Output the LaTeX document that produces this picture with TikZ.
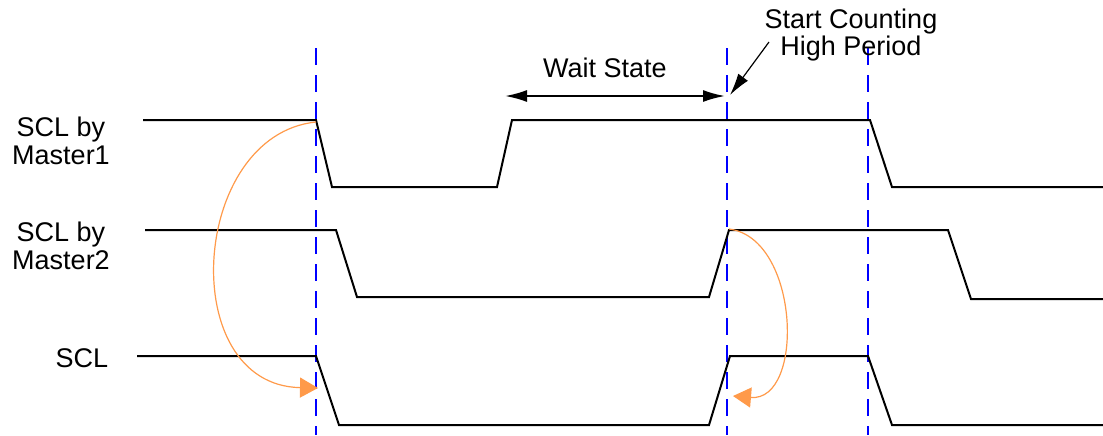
\documentclass[tikz,border=0pt]{standalone}
\usepackage{fontspec}
\setmainfont{Liberation Sans}
\usetikzlibrary{arrows.meta}
\definecolor{orng}{HTML}{FF9A4A}
\tikzset{
  wave/.style={line width=1pt, black, line join=miter},
  guide/.style={line width=1.25pt, blue, dash pattern=on 8.5pt off 5pt},
  lbl/.style={font=\fontsize{13.5}{13.8}\selectfont, align=center, inner sep=0pt},
  causal/.style={orng, line width=0.6pt, -{Triangle[length=9pt,width=10pt]}},
  bigtip/.tip={Latex[length=11pt,width=6pt]},
}
\begin{document}
\begin{tikzpicture}[x=0.5pt,y=-0.5pt]
\useasboundingbox (0,0) rectangle (1103,435);
% labels
\node[lbl] (m1) at (61,141) {SCL by\\Master1};
\node[lbl] (m2) at (61,246) {SCL by\\Master2};
\node[lbl] (scl) at (82,358) {SCL};
% guide lines
\coordinate (g1t) at (316,48); \coordinate (g1b) at (316,435);
\coordinate (g2t) at (727,48); \coordinate (g2b) at (727,435);
\coordinate (g3t) at (868,48); \coordinate (g3b) at (868,435);
\draw[guide] (g1t) -- (g1b);
\draw[guide] (g2t) -- (g2b);
\draw[guide] (g3t) -- (g3b);
% waveforms
\draw[wave] (143,120) -- (316,120) -- (332,187) -- (497,187) -- (512,120) -- (870,120) -- (892,187) -- (1103,187);
\draw[wave] (145,230) -- (336,230) -- (357,297) -- (709,297) -- (729,230) -- (948,230) -- (971,299) -- (1103,299);
\draw[wave] (137,356) -- (316,356) -- (339,425) -- (709,425) -- (730,356) -- (868,356) -- (892,425) -- (1103,425);
% wait state
\coordinate (wl) at (505,96); \coordinate (wr) at (725,96);
\draw[line width=1pt, bigtip-bigtip] (wl) -- (wr);
\node[lbl] (ws) at (605,68) {Wait State};
% start counting
\node[lbl] (sc) at (851,35) {Start Counting\\High Period};
\coordinate (sca) at (769,42); \coordinate (scb) at (730,95);
\draw[line width=0.6pt, -bigtip] (sca) -- (scb);
% causal arrows
\coordinate (c1a) at (316,122); \coordinate (c1b) at (318,388);
\draw[causal] (c1a) .. controls (190,135) and (175,385) .. (c1b);
\coordinate (c2a) at (729,229); \coordinate (c2b) at (733,396);
\draw[causal] (c2a) .. controls (800,238) and (805,402) .. (c2b);
\end{tikzpicture}
\end{document}
